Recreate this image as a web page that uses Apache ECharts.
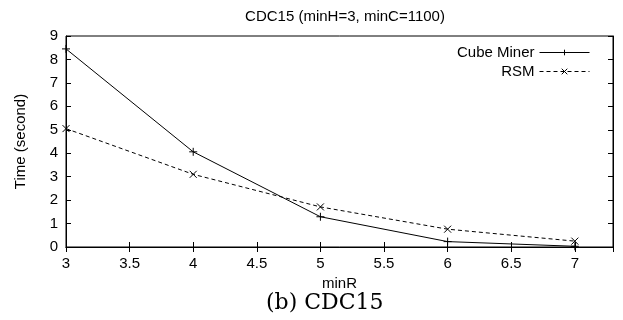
<!DOCTYPE html>
<html>
<head>
<meta charset="utf-8">
<script src="https://cdn.jsdelivr.net/npm/echarts@6/dist/echarts.min.js"></script>
<style>
  html, body { margin: 0; padding: 0; background: #fff; }
  #chart { width: 623px; height: 320px; }
</style>
</head>
<body>
<div id="chart"></div>
<script>
// minR values and run times
const minR = [3, 4, 5, 6, 7];
const cubeMiner = [8.45, 4.06, 1.29, 0.23, 0.03];
const rsm = [5.05, 3.10, 1.71, 0.76, 0.25];

const font = 'Liberation Sans, Arial, sans-serif';
const myChart = echarts.init(document.getElementById('chart'));

// gnuplot style: ticks inside, mirrored on top / right
const tickStyle = { show: true, inside: true, length: 5, lineStyle: { color: '#000' } };

const option = {
    animation: false,
    backgroundColor: '#fff',
    title: {
        text: 'CDC15 (minH=3, minC=1100)',
        left: 340, top: 4, textAlign: 'center',
        textStyle: { fontFamily: font, fontSize: 15, fontWeight: 'normal', color: '#000' }
    },
    legend: {
        orient: 'vertical',
        right: 28, top: 40,
        align: 'right',
        itemWidth: 50, itemHeight: 7, itemGap: 4,
        lineStyle: { width: 1 },
        itemStyle: { borderWidth: 1 },
        textStyle: { fontFamily: font, fontSize: 15, color: '#000' },
        data: ['Cube Miner', 'RSM']
    },
    grid: {
        left: 66, right: 10, top: 36, bottom: 73,
        show: true, borderColor: '#000', borderWidth: 1
    },
    xAxis: [{
        type: 'value', min: 3, max: 7.3, interval: 0.5,
        name: 'minR', nameLocation: 'middle', nameGap: 25,
        nameTextStyle: { fontFamily: font, fontSize: 15, color: '#000' },
        axisLine: { show: true, lineStyle: { color: '#000' } },
        axisTick: tickStyle,
        splitLine: { show: false },
        axisLabel: { fontFamily: font, fontSize: 15, color: '#000', margin: 9, showMaxLabel: false }
    }, {
        type: 'value', min: 3, max: 7.3, interval: 0.5, position: 'top',
        axisLine: { show: true, lineStyle: { color: '#000' } },
        axisTick: tickStyle, axisLabel: { show: false }, splitLine: { show: false }
    }],
    yAxis: [{
        type: 'value', min: 0, max: 9, interval: 1,
        name: 'Time (second)', nameLocation: 'middle', nameGap: 38, nameRotate: 90,
        nameTextStyle: { fontFamily: font, fontSize: 15, color: '#000' },
        axisLine: { show: true, lineStyle: { color: '#000' } },
        axisTick: tickStyle,
        splitLine: { show: false },
        axisLabel: { fontFamily: font, fontSize: 15, color: '#000', margin: 8 }
    }, {
        type: 'value', min: 0, max: 9, interval: 1, position: 'right',
        axisLine: { show: true, lineStyle: { color: '#000' } },
        axisTick: tickStyle, axisLabel: { show: false }, splitLine: { show: false }
    }],
    graphic: [{
        type: 'text', left: 266, top: 292,
        style: { text: '(b) CDC15', font: '22px "DejaVu Serif", "Liberation Serif", serif', fill: '#000' }
    }],
    series: [{
        name: 'Cube Miner', type: 'line',
        data: minR.map((r, i) => [r, cubeMiner[i]]),
        symbol: 'path://M5,0L5,10M0,5L10,5', symbolSize: 8,
        itemStyle: { color: '#000', borderColor: '#000', borderWidth: 1 },
        lineStyle: { color: '#000', width: 1 }
    }, {
        name: 'RSM', type: 'line',
        data: minR.map((r, i) => [r, rsm[i]]),
        symbol: 'path://M0,0L10,10M10,0L0,10', symbolSize: 7,
        itemStyle: { color: '#000', borderColor: '#000', borderWidth: 1 },
        lineStyle: { color: '#000', width: 1, type: [4, 3] }
    }]
};

myChart.setOption(option);
</script>
</body>
</html>
